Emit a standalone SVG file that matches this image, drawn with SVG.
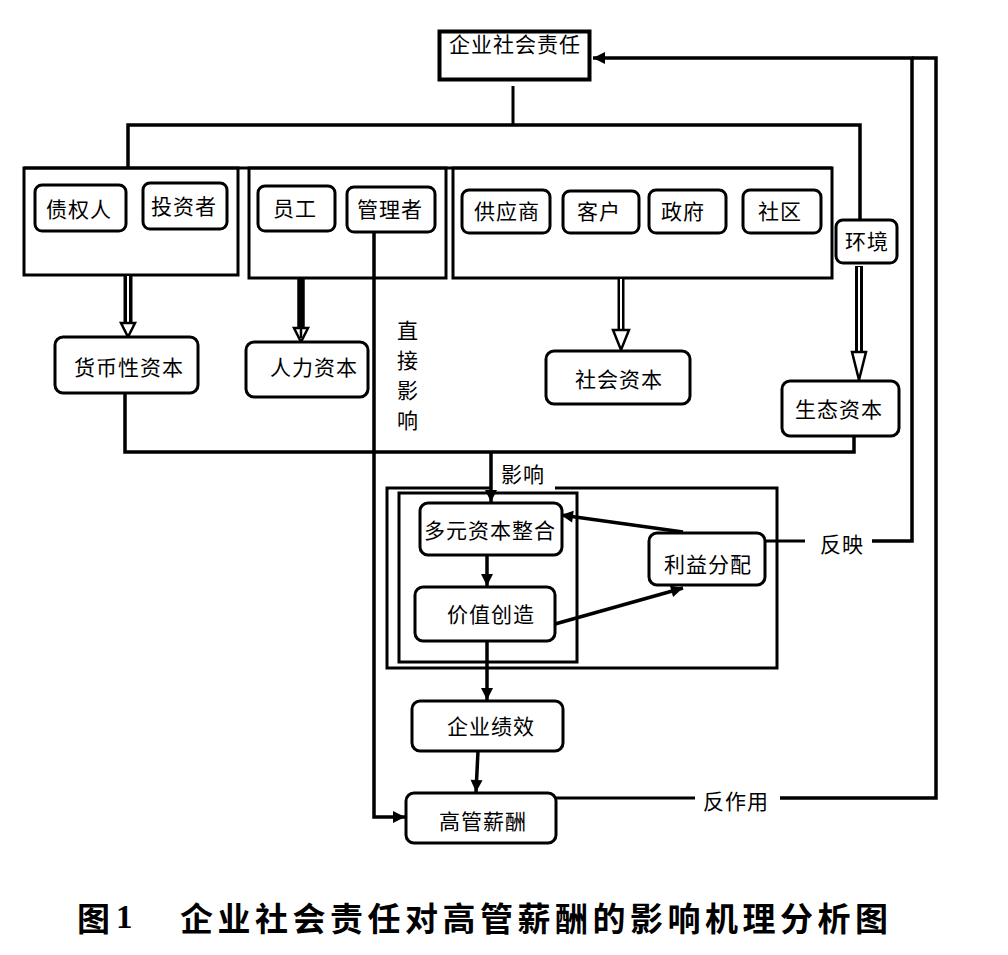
<svg xmlns="http://www.w3.org/2000/svg" width="1008" height="955" viewBox="0 0 1008 955">
<style>
.grp{fill:none;stroke:#000;stroke-width:3}
.nd{fill:#fff;stroke:#000;stroke-width:3}
.t{font-family:"Noto Sans CJK SC","Noto Sans CJK JP",sans-serif;font-size:21px;fill:#000;text-anchor:middle;dominant-baseline:central;letter-spacing:1px}
.ln{fill:none;stroke:#000;stroke-width:3.5}
.thin{fill:none;stroke:#000;stroke-width:3}
.dblo{stroke:#000;fill:none}
.dbli{stroke:#fff;stroke-width:2;fill:none}
.hol{fill:#fff;stroke:#000;stroke-width:2.5;stroke-linejoin:miter}
.title{font-family:"Noto Sans CJK SC",sans-serif;font-size:33px;fill:#000;dominant-baseline:central;letter-spacing:4.5px;font-weight:bold}
</style>
<defs>
<marker id="ah" markerUnits="userSpaceOnUse" markerWidth="14" markerHeight="14" refX="12" refY="6" orient="auto" overflow="visible">
<path d="M0,0 L12,6 L0,12 Z" fill="#000"/>
</marker>
</defs>
<rect width="1008" height="955" fill="#fff"/>

<g id="frames">
<path class="grp" d="M24,168 H832"/>
<rect id="grp-creditor" class="grp" x="24" y="168" width="214" height="107"/>
<rect id="grp-employee" class="grp" x="249" y="168" width="197" height="110"/>
<rect id="grp-partner" class="grp" x="453" y="168" width="379" height="110"/>
<path id="frame-outer" class="grp" d="M490,488 H387 V668 H777 V488 H555"/>
<rect id="frame-inner" class="grp" x="399" y="493" width="178" height="169"/>
</g>

<g id="connectors">
<path class="thin" d="M513,86 V125"/>
<path class="ln" d="M128,168 V125 H860 V220"/>
<path class="ln" d="M125,393 V452 H854 V436"/>
<path class="ln" d="M491,452 V502" marker-end="url(#ah)"/>
<path class="ln" d="M374,232 V817 H405" marker-end="url(#ah)"/>
<path class="ln" d="M487,555 V586" marker-end="url(#ah)"/>
<path class="ln" d="M487,641 V700" marker-end="url(#ah)"/>
<path class="ln" d="M478,751 L476,792" marker-end="url(#ah)"/>
<path class="ln" d="M683,532 L561,515" marker-end="url(#ah)"/>
<path class="ln" d="M555,624 L683,588" marker-end="url(#ah)"/>
<path class="thin" d="M765,541 H805"/>
<path class="ln" d="M872,541 H912 V58 H593" marker-end="url(#ah)"/>
<path class="thin" d="M556,798 H695"/>
<path class="ln" d="M780,798 H936 V58 H912"/>
<path class="dblo" stroke-width="9" d="M128,275 V324"/>
<path class="dbli" d="M128,276 V324"/>
<polygon class="hol" points="121,323 135,323 128,337"/>
<path class="dblo" stroke-width="7.5" d="M301,278 V329"/>
<polygon class="hol" points="294,328 308,328 301,342"/>
<path class="dblo" stroke-width="2.5" d="M301,328 V338"/>
<path class="dblo" stroke-width="7" d="M621,278 V331"/>
<path class="dbli" d="M621,279 V331"/>
<polygon class="hol" points="613,330 629,330 621,350"/>
<path class="dblo" stroke-width="8" d="M859,266 V353"/>
<path class="dbli" d="M859,267 V353"/>
<polygon class="hol" points="852,352 866,352 859,380"/>
</g>

<g id="n-csr"><rect x="439.5" y="31.5" width="150" height="48" fill="#fff" stroke="#000" stroke-width="4"/><text class="t" x="515" y="43">企业社会责任</text></g>

<g id="n-creditor"><rect class="nd" x="35" y="185" width="91" height="46" rx="7"/><text class="t" x="79" y="208">债权人</text></g>
<g id="n-investor"><rect class="nd" x="143" y="183" width="84" height="46" rx="7"/><text class="t" x="184" y="205">投资者</text></g>
<g id="n-employee"><rect class="nd" x="258" y="186" width="77" height="45" rx="7"/><text class="t" x="295" y="207">员工</text></g>
<g id="n-manager"><rect class="nd" x="347" y="187" width="88" height="45" rx="7"/><text class="t" x="390" y="208">管理者</text></g>
<g id="n-supplier"><rect class="nd" x="462" y="190" width="88" height="43" rx="7"/><text class="t" x="507" y="210">供应商</text></g>
<g id="n-customer"><rect class="nd" x="563" y="191" width="76" height="42" rx="7"/><text class="t" x="599" y="210">客户</text></g>
<g id="n-gov"><rect class="nd" x="649" y="190" width="77" height="43" rx="7"/><text class="t" x="683" y="210">政府</text></g>
<g id="n-community"><rect class="nd" x="743" y="190" width="78" height="43" rx="7"/><text class="t" x="780" y="210">社区</text></g>
<g id="n-env"><rect class="nd" x="836" y="220" width="61" height="43" rx="7"/><text class="t" x="867" y="240">环境</text></g>

<g id="n-monetary"><rect class="nd" x="55" y="337" width="143" height="56" rx="8"/><text class="t" x="129" y="366">货币性资本</text></g>
<g id="n-human"><rect class="nd" x="246" y="342" width="122" height="55" rx="8"/><text class="t" x="314" y="366">人力资本</text></g>
<g id="n-social"><rect class="nd" x="546" y="351" width="144" height="53" rx="8"/><text class="t" x="619" y="378">社会资本</text></g>
<g id="n-eco"><rect class="nd" x="782" y="381" width="117" height="55" rx="8"/><text class="t" x="839" y="408">生态资本</text></g>

<g id="n-integrate"><rect class="nd" x="420" y="503" width="142" height="52" rx="8"/><text class="t" x="490" y="529">多元资本整合</text></g>
<g id="n-value"><rect class="nd" x="415" y="587" width="140" height="54" rx="8"/><text class="t" x="491" y="613">价值创造</text></g>
<g id="n-benefit"><rect class="nd" x="649" y="533" width="116" height="52" rx="8"/><text class="t" x="708" y="563">利益分配</text></g>
<g id="n-perf"><rect class="nd" x="412" y="701" width="151" height="50" rx="8"/><text class="t" x="491" y="725">企业绩效</text></g>
<g id="n-pay"><rect class="nd" x="406" y="793" width="150" height="50" rx="8"/><text class="t" x="483" y="820">高管薪酬</text></g>

<g id="labels">
<text class="t" x="408" y="329">直</text>
<text class="t" x="408" y="359">接</text>
<text class="t" x="408" y="389">影</text>
<text class="t" x="408" y="419">响</text>
<text class="t" x="523" y="473">影响</text>
<text class="t" x="842" y="543">反映</text>
<text class="t" x="736" y="800">反作用</text>
</g>

<g id="caption">
<text class="title" x="77" y="917">图</text>
<text x="116" y="917" font-family="'Liberation Serif',serif" font-weight="bold" font-size="33" dominant-baseline="central">1</text>
<text class="title" x="180" y="917">企业社会责任对高管薪酬的影响机理分析图</text>
</g>
</svg>
